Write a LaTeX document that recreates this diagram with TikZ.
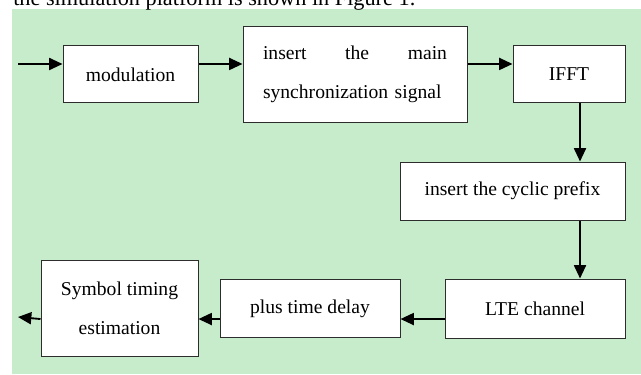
\documentclass[tikz,border=0pt]{standalone}
\usepackage{fontspec}
\setmainfont{Liberation Serif}
\usepackage{tikz}
\usetikzlibrary{arrows.meta,positioning,calc}
\definecolor{fondoverde}{RGB}{199,236,204}
\definecolor{borde}{RGB}{45,45,45}
\tikzset{
  caja/.style={rectangle,draw=borde,line width=0.75pt,fill=white,
    align=center,inner sep=2pt,font=\fontsize{14.7}{29}\selectfont},
  flecha/.style={-{Triangle[length=10pt,width=9pt]},black,line width=1.4pt},
}
\begin{document}
\begin{tikzpicture}[x=0.75pt,y=-0.75pt]
      \useasboundingbox (0,0) rectangle (641,374);
      \clip (0,0) rectangle (641,374);
      \fill[white] (0,0) rectangle (641,374);
      \fill[fondoverde] (12,9) rectangle (641,374);
      \node[anchor=base west,inner sep=0pt,font=\fontsize{16.7}{20}\selectfont] (pie) at (13,6)
        {the simulation platform is shown in Figure 1.};
      % fila superior
      \node[caja,minimum width=101.25pt,minimum height=42.75pt] (mod) at (130.5,74.5) {modulation};
      \node[caja,right=33pt of mod,minimum width=168pt,minimum height=72pt,
        text width=138pt,align=left] (ins)
        {insert\hfill the\hfill main\\synchronization signal};
      \node[caja,right=33.75pt of ins,minimum width=84pt,minimum height=42.75pt] (ifft) {IFFT};
      % columna derecha
      \node[caja,below=43.5pt of ifft.south east,anchor=north east,
        minimum width=168.75pt,minimum height=43.5pt] (cyc) {insert the cyclic prefix};
      \node[caja,below=43.5pt of cyc.south east,anchor=north east,
        minimum width=135pt,minimum height=44.25pt] (lte) {LTE channel};
      % fila inferior
      \node[caja,left=33pt of lte,minimum width=135pt,minimum height=43.5pt] (plus) {plus time delay};
      \node[caja,left=15.75pt of plus,minimum width=117.75pt,minimum height=72pt] (sym)
        {Symbol timing\\ estimation};
      \coordinate (in) at (18,64);
      \coordinate (out) at (18,317);
      \draw[flecha] (in) -- (in -| mod.west);
      \draw[flecha] ([yshift=7.9pt]mod.east) -- ([yshift=7.9pt]mod.east -| ins.west);
      \draw[flecha] ([yshift=7.9pt]mod.east -| ins.east) -- ([yshift=7.9pt]mod.east -| ifft.west);
      \draw[flecha] ([xshift=8.25pt]ifft.south) -- ([xshift=8.25pt]ifft.south |- cyc.north);
      \draw[flecha] ([xshift=8.25pt]ifft.south |- cyc.south) -- ([xshift=8.25pt]ifft.south |- lte.north);
      \draw[flecha] ([yshift=-7.9pt]lte.west) -- ([yshift=-7.9pt]lte.west -| plus.east);
      \draw[flecha] ([yshift=-7.9pt]lte.west -| plus.west) -- ([yshift=-7.9pt]lte.west -| sym.east);
      \draw[flecha] ([yshift=-7.9pt]lte.west -| sym.west) -- (out);
    \end{tikzpicture}
\end{document}
